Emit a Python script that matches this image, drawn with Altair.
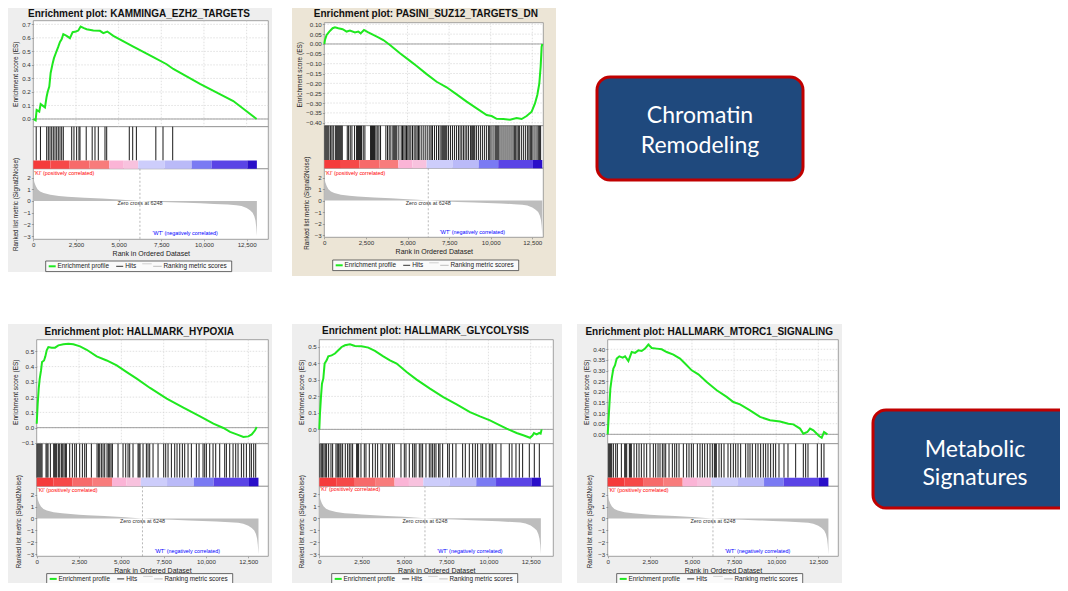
import altair as alt
import pandas as pd

# ---------------- data ----------------
RANK_TICKS = [0, 2500, 5000, 7500, 10000, 12500]
ZERO_CROSS = 6248

METRIC_RANK = [0, 20, 60, 150, 250, 400, 600, 1000, 1500, 2000, 2500, 3000, 4000, 5000, 5600, 6248,
               7000, 8000, 9000, 9800, 10600, 11400, 11900, 12200, 12500, 12700, 12850, 12950, 13020,
               13060, 13090, 13100]
METRIC_VAL = [2.2, 1.9, 1.6, 1.25, 1.0, 0.8, 0.67, 0.52, 0.43, 0.37, 0.32, 0.28, 0.2, 0.12, 0.07, 0.0,
              -0.06, -0.11, -0.16, -0.2, -0.25, -0.31, -0.36, -0.43, -0.6, -0.8, -1.0, -1.3, -1.7,
              -2.2, -2.8, -3.0]

CBAR_START = [0, 1000, 2100, 3300, 4450, 5300, 6150, 7700, 9280, 10450, 12540]
CBAR_END = [1000, 2100, 3300, 4450, 5300, 6150, 7700, 9280, 10450, 12540, 13100]
CBAR_COLOR = ["#f53b3b", "#f64848", "#f76a6a", "#f87c7c", "#fbb4d6", "#f8c2de", "#cdcdfb",
              "#babaf8", "#7a7af3", "#5a44e6", "#2a0fc9"]

TITLES = ["Enrichment plot: KAMMINGA_EZH2_TARGETS", "Enrichment plot: PASINI_SUZ12_TARGETS_DN",
          "Enrichment plot: HALLMARK_HYPOXIA", "Enrichment plot: HALLMARK_GLYCOLYSIS",
          "Enrichment plot: HALLMARK_MTORC1_SIGNALING"]

P1_ES_RANK = [0, 137, 195, 350, 430, 684, 781, 840, 937, 1016, 1133, 1211, 1328, 1465, 1563, 1660,
              1758, 1953, 2148, 2305, 2500, 2637, 2773, 2969, 3125, 3516, 3906, 4102, 4336, 4688,
              5859, 7031, 7813, 8203, 9766, 11719, 13086]
P1_ES_VAL = [0.0, -0.01, 0.067, 0.054, 0.11, 0.086, 0.165, 0.2, 0.24, 0.34, 0.41, 0.45, 0.49, 0.535,
             0.57, 0.59, 0.627, 0.615, 0.598, 0.642, 0.647, 0.654, 0.684, 0.672, 0.664, 0.654, 0.652,
             0.635, 0.647, 0.615, 0.536, 0.457, 0.405, 0.37, 0.26, 0.133, 0.0]
P1_HITS = [170, 420, 785, 880, 978, 1078, 1172, 1271, 1371, 1465, 1564, 1664, 1758, 2250, 2383, 2540,
           2676, 2736, 3100, 3450, 3615, 3809, 4201, 4301, 5625, 5824, 6040, 7180, 7600, 8168]

P2_ES_RANK = [0, 40, 140, 300, 500, 641, 841, 1102, 1342, 1542, 1843, 2043, 2183, 2384, 2644, 2945,
              3245, 3546, 3946, 4547, 5148, 5549, 6150, 6751, 7352, 7953, 8554, 9155, 9756, 10056,
              10357, 10757, 11158, 11558, 11859, 12159, 12460, 12660, 12800, 12921, 13001, 13061, 13101]
P2_ES_VAL = [0.0, 0.02, 0.046, 0.063, 0.08, 0.085, 0.08, 0.075, 0.063, 0.068, 0.059, 0.063, 0.054,
             0.071, 0.059, 0.046, 0.034, 0.02, -0.005, -0.047, -0.086, -0.112, -0.153, -0.192, -0.22,
             -0.256, -0.293, -0.327, -0.361, -0.366, -0.38, -0.381, -0.385, -0.376, -0.381, -0.366,
             -0.344, -0.302, -0.259, -0.2, -0.115, -0.014, 0.0]
P2_HITS = [40, 100, 160, 220, 280, 380, 460, 540, 660, 720, 780, 840, 900, 960, 1020, 1080, 1380, 1460,
           1560, 1660, 1820, 1940, 2000, 2060, 2120, 2180, 2240, 2340, 2440, 2780, 2840, 2900, 2960,
           3020, 3100, 3180, 3280, 3380, 3700, 3800, 3900, 4000, 4120, 4180, 4240, 4300, 4360, 4480,
           4620, 4700, 4780, 4860, 4940, 5020, 5100, 5200, 5300, 5400, 5500, 5580, 5660, 5740, 5860,
           5980, 6100, 6220, 6340, 6420, 6500, 6620, 6740, 6860, 6960, 7060, 7120, 7180, 7240, 7300,
           7360, 7460, 7580, 7700, 7820, 7940, 8060, 8160, 8260, 8360, 8460, 8560, 8660, 8780, 8860,
           8920, 8980, 9040, 9140, 9260, 9380, 9500, 9620, 9740, 9860, 9940, 10020, 10140, 10260,
           10320, 10380, 10440, 10500, 10620, 10740, 10860, 10980, 11100, 11220, 11340, 11420, 11500,
           11580, 11660, 11740, 11860, 11980, 12100, 12220, 12300, 12380, 12460, 12540, 12660, 12780,
           12860, 12940, 13000]

P3_ES_RANK = [0, 59, 118, 177, 256, 315, 433, 512, 591, 689, 886, 1083, 1280, 1575, 1871, 2166, 2560,
              2954, 3544, 4135, 4726, 5317, 5907, 6695, 7680, 8664, 9649, 10436, 11027, 11421, 11815,
              12209, 12504, 12701, 12898, 12996]
P3_ES_VAL = [0.026, 0.157, 0.255, 0.32, 0.375, 0.43, 0.44, 0.467, 0.506, 0.528, 0.524, 0.524, 0.539,
             0.546, 0.55, 0.546, 0.532, 0.51, 0.467, 0.44, 0.408, 0.364, 0.321, 0.26, 0.19, 0.131,
             0.074, 0.026, -0.002, -0.028, -0.044, -0.061, -0.057, -0.044, -0.017, 0.004]
P3_HITS = [20, 79, 138, 197, 256, 315, 551, 610, 669, 807, 1004, 1063, 1122, 1181, 1280, 1359, 1457,
           1536, 1615, 1693, 1752, 1949, 2107, 2245, 2343, 2540, 2698, 2835, 2934, 3229, 3564, 3643,
           3721, 3820, 3918, 4017, 4155, 4233, 4312, 4391, 4470, 4804, 5100, 5257, 5395, 5493, 5690,
           5986, 6045, 6104, 6281, 6478, 6576, 6675, 6872, 7167, 7502, 7620, 7758, 7955, 8152, 8289,
           8447, 8604, 8742, 8939, 9136, 9431, 9589, 9825, 9924, 10022, 10219, 10416, 10574, 10810,
           11105, 11204, 11401, 11598, 11755, 11893, 12090, 12228, 12385, 12582, 12680, 12818, 12936]

P4_ES_RANK = [0, 39, 99, 158, 237, 315, 434, 532, 729, 926, 1123, 1321, 1518, 1813, 2109, 2503, 2897,
              3291, 3784, 4178, 4573, 5164, 5755, 6544, 7332, 8120, 8909, 9500, 10091, 10683, 11077,
              11668, 12062, 12457, 12614, 12693, 12851, 13008, 13087, 13146]
P4_ES_VAL = [0.0, 0.095, 0.196, 0.277, 0.308, 0.399, 0.419, 0.443, 0.449, 0.46, 0.48, 0.5, 0.51, 0.516,
             0.506, 0.504, 0.496, 0.476, 0.443, 0.419, 0.399, 0.348, 0.302, 0.247, 0.196, 0.152, 0.105,
             0.079, 0.055, 0.024, 0.004, -0.022, -0.036, -0.051, -0.036, -0.022, -0.03, -0.022,
             -0.026, 0.0]
P4_HITS = [39, 118, 197, 276, 355, 434, 552, 690, 788, 986, 1064, 1143, 1222, 1281, 1380, 1537, 1675,
           1774, 1872, 1971, 2208, 2267, 2326, 2464, 2661, 2759, 2957, 3154, 3311, 3449, 3646, 3745,
           3942, 4100, 4179, 4336, 4435, 4829, 5026, 5125, 5322, 5519, 5617, 5716, 5913, 6012, 6110,
           6307, 6504, 6603, 6701, 6800, 6899, 7056, 7135, 7293, 7588, 7687, 7884, 8081, 8475, 8633,
           8870, 9067, 9224, 9362, 9559, 9658, 9855, 10052, 10151, 10249, 10446, 10742, 11235, 11392,
           11629, 11826, 12023, 12417, 12713, 13009]

P5_ES_RANK = [0, 59, 99, 158, 237, 336, 435, 534, 692, 890, 1029, 1227, 1425, 1622, 1820, 2018, 2216,
              2414, 2612, 2908, 3205, 3502, 3898, 4293, 4590, 4986, 5382, 5876, 6470, 7063, 7459, 7855,
              8448, 9042, 9635, 10229, 10723, 11020, 11416, 11614, 11851, 12009, 12207, 12563, 12702,
              12840, 13038]
P5_ES_VAL = [0.0, 0.082, 0.136, 0.215, 0.262, 0.309, 0.325, 0.356, 0.367, 0.361, 0.367, 0.344, 0.387,
             0.383, 0.395, 0.392, 0.403, 0.422, 0.406, 0.403, 0.4, 0.387, 0.375, 0.356, 0.333, 0.301,
             0.282, 0.246, 0.207, 0.176, 0.152, 0.141, 0.113, 0.082, 0.066, 0.06, 0.05, 0.047, 0.027,
             0.003, 0.011, 0.027, 0.019, -0.009, -0.016, 0.011, 0.0]
P5_HITS = [59, 119, 178, 237, 336, 475, 574, 811, 1009, 1068, 1127, 1286, 1345, 1404, 1563, 1721, 1859,
           1998, 2156, 2314, 2512, 2710, 2848, 2987, 3105, 3244, 3343, 3442, 3640, 3837, 3976, 4094,
           4233, 4490, 4688, 4826, 4965, 5083, 5321, 5479, 5618, 5756, 5914, 6072, 6211, 6330, 6389,
           6448, 6607, 6745, 6903, 7141, 7299, 7457, 7596, 7734, 7892, 8189, 8327, 8446, 8585, 8782,
           8921, 9079, 9237, 9376, 9514, 9672, 9831, 9969, 10167, 10464, 10701, 11156, 11611, 11750,
           11888, 12442, 12679, 12837]

ES_TICKS_1 = [0.0, 0.1, 0.2, 0.3, 0.4, 0.5, 0.6, 0.7]
ES_TICKS_2 = [0.1, 0.05, 0.0, -0.05, -0.1, -0.15, -0.2, -0.25, -0.3, -0.35, -0.4]
ES_TICKS_3 = [-0.1, 0.0, 0.1, 0.2, 0.3, 0.4, 0.5]
ES_TICKS_4 = [0.0, 0.1, 0.2, 0.3, 0.4, 0.5]
ES_TICKS_5 = [0.0, 0.05, 0.1, 0.15, 0.2, 0.25, 0.3, 0.35, 0.4]
METRIC_TICKS = [2, 1, 0, -1, -2, -3]

# ---------------- layout (page pixels) ----------------
OX, OY = 8, 8
W, H = 1052, 575
FONT = "Liberation Sans"
DY = -3  # bottom row shift


def cx(v):
    return v - OX


def cy(v):
    return v - OY


def bottom(d):
    out = dict(d)
    for k in ["es_top", "es_bot", "hits_bot", "cbar_bot", "met_bot", "title_y"]:
        out[k] = d[k] + DY
    b = d["bg"]
    out["bg"] = (b[0], b[1], b[2] + DY, b[3] + DY)
    return out


PANELS = [
    dict(title=TITLES[0], es_rank=P1_ES_RANK, es_val=P1_ES_VAL, hits=P1_HITS, es_ticks=ES_TICKS_1,
         es_fmt=".1f", es_dom=[-0.057, 0.727], met_dom=[-3.28, 2.75],
         left=33.3, right=268.3, xmax=13770, es_top=20.7, es_bot=126.7, hits_bot=160.5,
         cbar_bot=168.8, met_bot=239.3, bg=(8, 272, 0, 272), bgcolor="#eeeeee",
         title_x=139, title_y=13.5, leg_x=45.7, leg_y=261),
    dict(title=TITLES[1], es_rank=P2_ES_RANK, es_val=P2_ES_VAL, hits=P2_HITS, es_ticks=ES_TICKS_2,
         es_fmt=".2f", es_dom=[-0.415, 0.108], met_dom=[-3.2, 2.82],
         left=324.3, right=543.3, xmax=13160, es_top=22.7, es_bot=125.7, hits_bot=160,
         cbar_bot=168.3, met_bot=237.3, bg=(292, 556, 0, 276), bgcolor="#ece5d6",
         title_x=425.8, title_y=14, leg_x=332.7, leg_y=260),
    bottom(dict(title=TITLES[2], es_rank=P3_ES_RANK, es_val=P3_ES_VAL, hits=P3_HITS, es_ticks=ES_TICKS_3,
                es_fmt=".1f", es_dom=[-0.105, 0.576], met_dom=[-3.17, 2.70],
                left=36.7, right=268.3, xmax=13680, es_top=342.7, es_bot=446.7, hits_bot=480.7,
                cbar_bot=489.3, met_bot=559.3, bg=(8, 272, 327, 600), bgcolor="#eeeeee",
                title_x=139.3, title_y=335, leg_x=46.7, leg_y=573.6)),
    bottom(dict(title=TITLES[3], es_rank=P4_ES_RANK, es_val=P4_ES_VAL, hits=P4_HITS, es_ticks=ES_TICKS_4,
                es_fmt=".1f", es_dom=[-0.087, 0.544], met_dom=[-3.17, 2.67],
                left=319.3, right=553.3, xmax=13836, es_top=342.7, es_bot=446.7, hits_bot=480.7,
                cbar_bot=489.3, met_bot=559.3, bg=(292, 562, 327, 600), bgcolor="#eeeeee",
                title_x=425.5, title_y=334, leg_x=331.7, leg_y=573.6)),
    bottom(dict(title=TITLES[4], es_rank=P5_ES_RANK, es_val=P5_ES_VAL, hits=P5_HITS, es_ticks=ES_TICKS_5,
                es_fmt=".2f", es_dom=[-0.044, 0.445], met_dom=[-3.17, 2.70],
                left=607.7, right=838.3, xmax=13687, es_top=342.7, es_bot=446.7, hits_bot=480.7,
                cbar_bot=489.3, met_bot=559.3, bg=(577, 842, 327, 600), bgcolor="#eeeeee",
                title_x=709.2, title_y=335, leg_x=616.7, leg_y=573.6)),
]


# ---------------- helpers ----------------
def rect_layer(rows, **kw):
    df = pd.DataFrame(rows, columns=["x", "x2", "y", "y2"])
    return alt.Chart(df).mark_rect(**kw).encode(
        x=alt.X("x:Q", scale=None, axis=None), x2="x2:Q",
        y=alt.Y("y:Q", scale=None, axis=None), y2="y2:Q")


def hline_layer(rows, **kw):
    df = pd.DataFrame(rows, columns=["x", "x2", "y"])
    return alt.Chart(df).mark_rule(**kw).encode(
        x=alt.X("x:Q", scale=None, axis=None), x2="x2:Q",
        y=alt.Y("y:Q", scale=None, axis=None))


def text_layer(rows, **kw):
    df = pd.DataFrame(rows, columns=["x", "y", "t"])
    return alt.Chart(df).mark_text(**kw).encode(
        x=alt.X("x:Q", scale=None, axis=None),
        y=alt.Y("y:Q", scale=None, axis=None), text="t:N")


AX = dict(labelFont=FONT, labelColor="#333333", labelFlush=False, labelOverlap=False,
          tickColor="#777777", tickWidth=0.6, domain=False, grid=False, titleFont=FONT,
          titleFontWeight="normal", titleColor="#222222", zindex=1)


def panel(p):
    L, R = p["left"], p["right"]
    et, eb, hb, cb, mb = p["es_top"], p["es_bot"], p["hits_bot"], p["cbar_bot"], p["met_bot"]
    xsc = alt.Scale(domain=[0, p["xmax"]], range=[cx(L), cx(R)], nice=False, zero=False)
    esc = alt.Scale(domain=p["es_dom"], range=[cy(eb), cy(et)], nice=False, zero=False)
    msc = alt.Scale(domain=p["met_dom"], range=[cy(mb), cy(cb)], nice=False, zero=False)
    out = []
    b = p["bg"]
    out.append(rect_layer([(cx(b[0]), cx(b[1]), cy(b[2]), cy(b[3]))], fill=p["bgcolor"]))
    out.append(rect_layer([(cx(L), cx(R), cy(et), cy(eb)), (cx(L), cx(R), cy(eb), cy(cb)),
                           (cx(L), cx(R), cy(cb), cy(mb))],
                          fill="white", stroke="#8c8c8c", strokeWidth=0.8))
    # grid
    out.append(alt.Chart(pd.DataFrame({"r": RANK_TICKS[1:]})).mark_rule(
        color="#cccccc", strokeWidth=0.6, strokeDash=[1.5, 1.5]).encode(
        x=alt.X("r:Q", scale=xsc, axis=None), y=alt.value(cy(et)), y2=alt.value(cy(eb))))
    out.append(alt.Chart(pd.DataFrame({"v": p["es_ticks"]})).mark_rule(
        color="#cccccc", strokeWidth=0.6, strokeDash=[1.5, 1.5]).encode(
        y=alt.Y("v:Q", scale=esc, axis=None), x=alt.value(cx(L)), x2=alt.value(cx(R))))
    out.append(alt.Chart(pd.DataFrame({"v": [0.0]})).mark_rule(color="#8a8a8a", strokeWidth=0.8).encode(
        y=alt.Y("v:Q", scale=esc, axis=None), x=alt.value(cx(L)), x2=alt.value(cx(R))))
    # ES curve
    es_axis = alt.Axis(orient="left", offset=-cx(L), values=p["es_ticks"], format=p["es_fmt"],
                       labelFontSize=6.2, tickSize=2, labelPadding=1, title="Enrichment score (ES)",
                       titleFontSize=6.5, titlePadding=3, **AX)
    out.append(alt.Chart(pd.DataFrame({"r": p["es_rank"], "v": p["es_val"]})).mark_line(
        color="#1fe81f", strokeWidth=2).encode(
        x=alt.X("r:Q", scale=xsc, axis=None), y=alt.Y("v:Q", scale=esc, axis=es_axis)))
    # hits
    out.append(alt.Chart(pd.DataFrame({"r": p["hits"]})).mark_rule(
        color="#000000", strokeWidth=1, opacity=0.9).encode(
        x=alt.X("r:Q", scale=xsc, axis=None), y=alt.value(cy(eb)), y2=alt.value(cy(hb))))
    # colour bar
    out.append(alt.Chart(pd.DataFrame({"a": CBAR_START, "b": CBAR_END, "c": CBAR_COLOR})).mark_rect().encode(
        x=alt.X("a:Q", scale=xsc, axis=None), x2="b:Q", y=alt.value(cy(hb)), y2=alt.value(cy(cb)),
        color=alt.Color("c:N", scale=None)))
    # ranked metric
    x_axis = alt.Axis(orient="bottom", offset=cy(mb) - H, values=RANK_TICKS, format=",d",
                      labelFontSize=6.2, tickSize=1.5, labelPadding=1, title="Rank in Ordered Dataset",
                      titleFontSize=7, titlePadding=1, **AX)
    met_axis = alt.Axis(orient="left", offset=-cx(L), values=METRIC_TICKS, format="d",
                        labelFontSize=6.2, tickSize=2, labelPadding=1,
                        title="Ranked list metric (Signal2Noise)", titleFontSize=6.3, titlePadding=5, **AX)
    out.append(alt.Chart(pd.DataFrame({"r": METRIC_RANK, "v": METRIC_VAL})).mark_area(
        color="#bdbdbd").encode(
        x=alt.X("r:Q", scale=xsc, axis=x_axis), y=alt.Y("v:Q", scale=msc, axis=met_axis),
        y2=alt.Y2Datum(0)))
    out.append(alt.Chart(pd.DataFrame({"r": [ZERO_CROSS]})).mark_rule(
        color="#999999", strokeWidth=0.7, strokeDash=[2, 2]).encode(
        x=alt.X("r:Q", scale=xsc, axis=None), y=alt.value(cy(cb)), y2=alt.value(cy(mb))))
    ann = [("'KI' (positively correlated)", 60, 2.42, "left", "#ff0000"),
           ("Zero cross at %d" % ZERO_CROSS, ZERO_CROSS, -0.2, "center", "#333333"),
           ("'WT' (negatively correlated)", 8900, -2.75, "center", "#0000ff")]
    for t, r, v, al, col in ann:
        out.append(alt.Chart(pd.DataFrame({"r": [r], "v": [v], "t": [t]})).mark_text(
            align=al, baseline="middle", font=FONT, fontSize=5.4, color=col).encode(
            x=alt.X("r:Q", scale=xsc, axis=None), y=alt.Y("v:Q", scale=msc, axis=None), text="t:N"))
    # title
    out.append(text_layer([(cx(p["title_x"]), cy(p["title_y"]), p["title"])], font=FONT, fontSize=10,
                          fontWeight="bold", color="#111111", align="center", baseline="middle"))
    # legend
    lx, ly = p["leg_x"], p["leg_y"]
    lh = 10.6
    yc = ly + lh / 2
    out.append(rect_layer([(cx(lx), cx(lx + 186), cy(ly), cy(ly + lh))], fill="#fafafa",
                          stroke="#444444", strokeWidth=0.8))
    out.append(hline_layer([(cx(lx + 3), cx(lx + 10), cy(yc))], color="#1fe81f", strokeWidth=2))
    out.append(hline_layer([(cx(lx + 70.5), cx(lx + 77.5), cy(yc))], color="#333333", strokeWidth=1))
    out.append(hline_layer([(cx(lx + 96.5), cx(lx + 106), cy(yc - 2.5))], color="#cfcfcf", strokeWidth=1))
    out.append(hline_layer([(cx(lx + 107.5), cx(lx + 116), cy(yc))], color="#bdbdbd", strokeWidth=1))
    out.append(text_layer([(cx(lx + 11.8), cy(yc), "Enrichment profile"),
                           (cx(lx + 79.5), cy(yc), "Hits"),
                           (cx(lx + 117.8), cy(yc), "Ranking metric scores")],
                          font=FONT, fontSize=6.4, color="#222222", align="left", baseline="middle"))
    return out


layers = []
for p in PANELS:
    layers += panel(p)

# category boxes
BOX_LABELS = [["Chromatin", "Remodeling"], ["Metabolic", "Signatures"]]
layers.append(rect_layer([(cx(597), cx(803), cy(77), cy(180)), (cx(873), cx(1095), cy(410), cy(508))],
                         fill="#1f497d", stroke="#c00000", strokeWidth=3, cornerRadius=13))
layers.append(text_layer([(cx(700), cy(116), BOX_LABELS[0][0]), (cx(700), cy(146), BOX_LABELS[0][1]),
                          (cx(975), cy(450), BOX_LABELS[1][0]), (cx(975), cy(478), BOX_LABELS[1][1])],
                         font="Lato", fontSize=23, color="white", align="center", baseline="middle"))

chart = alt.layer(*layers).resolve_scale(
    x="independent", y="independent", color="independent"
).resolve_axis(x="independent", y="independent").properties(
    width=W, height=H, padding=0, background="white", autosize=alt.AutoSizeParams(type="none")
).configure_view(stroke="transparent", strokeWidth=0)

chart.save("out.html", embed_options={"renderer": "svg", "actions": False})
